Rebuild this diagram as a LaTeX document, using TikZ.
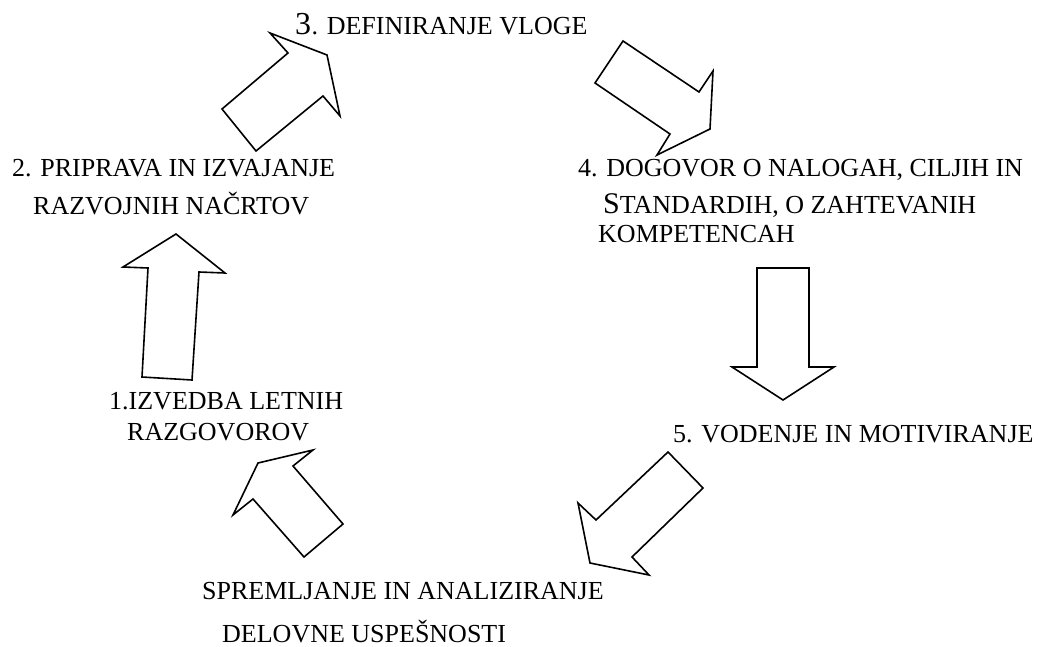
\documentclass[tikz,border=0pt]{standalone}
\usepackage{fontspec}
\setmainfont{Liberation Serif}
\usepackage{xcolor}
\usepackage{tikz}
\definecolor{bg}{HTML}{FFFFFF}
\definecolor{ink}{HTML}{000000}
\tikzset{
  page/.style={fill=bg, draw=none},
  blockarrow/.style={draw=ink, line width=1.6pt, fill=bg, line join=miter},
  lab/.style={text=ink, anchor=base west, inner sep=0pt, font=\fontsize{26}{31}\selectfont},
  biglab/.style={lab, font=\fontsize{32}{36}\selectfont}
}
\begin{document}
\begin{tikzpicture}[x=1pt,y=-1pt]
  \fill[page] (0,0) rectangle (1043,647);
  \useasboundingbox (0,0) rectangle (1043,647);

  % Stage labels, one node per printed line
  \node[biglab] (s3num) at (295,35) {3};
  \node[lab] (s3) at (s3num.base east) {. DEFINIRANJE VLOGE};

  \node[lab] (s2a) at (12,177) {2. PRIPRAVA IN IZVAJANJE};
  \node[lab] (s2b) at (33,214) {RAZVOJNIH NAČRTOV};

  \node[lab] (s4a) at (578,177) {4. DOGOVOR O NALOGAH, CILJIH IN};
  \node[lab] (s4b) at (603,213) {{\fontsize{30}{34}\selectfont S}TANDARDIH, O ZAHTEVANIH};
  \node[lab] (s4c) at (598,242) {KOMPETENCAH};

  \node[lab] (s1a) at (109,409) {1.IZVEDBA LETNIH};
  \node[lab] (s1b) at (127,440) {RAZGOVOROV};

  \node[lab] (s5) at (673,442) {5. VODENJE IN MOTIVIRANJE};

  \node[lab] (s6a) at (202,599) {SPREMLJANJE IN ANALIZIRANJE};
  \node[lab] (s6b) at (222,642) {DELOVNE USPEŠNOSTI};

  % Block arrows of the cycle
  % 1 -> 2 (up)
  \draw[blockarrow] (176,234) -- (225,273) -- (199,272) -- (192,380)
    -- (142,377) -- (148,268) -- (123,267) -- cycle;
  % 2 -> 3 (up right)
  \draw[blockarrow] (270,33) -- (288,53) -- (222,109) -- (256,151)
    -- (323,96) -- (340,116) -- (327,55) -- cycle;
  % 3 -> 4 (down right)
  \draw[blockarrow] (595,83) -- (623,41) -- (699,92) -- (713,71)
    -- (710,129) -- (657,155) -- (670,134) -- cycle;
  % 4 -> 5 (down)
  \draw[blockarrow] (757,268) -- (809,268) -- (809,367) -- (834,367)
    -- (783,400) -- (732,367) -- (757,367) -- cycle;
  % 5 -> 6 (down left)
  \draw[blockarrow] (596,520) -- (668,452) -- (703,488) -- (632,557)
    -- (649,575) -- (590,563) -- (578,503) -- cycle;
  % 6 -> 1 (up left)
  \draw[blockarrow] (258,463) -- (313,450) -- (293,466) -- (343,524)
    -- (304,557) -- (253,499) -- (233,515) -- cycle;
\end{tikzpicture}
\end{document}
